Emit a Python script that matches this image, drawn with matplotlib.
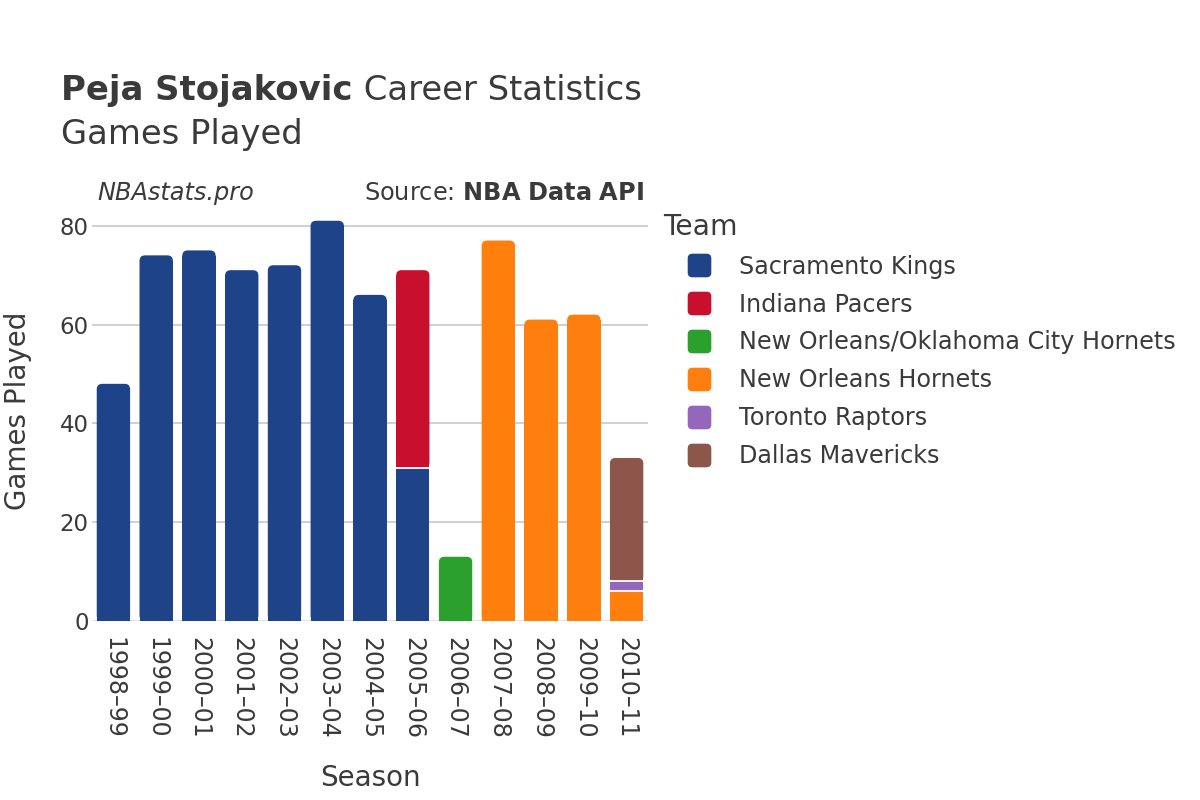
import matplotlib
matplotlib.use("Agg")
import matplotlib.pyplot as plt
from matplotlib.patches import FancyBboxPatch, Rectangle
from matplotlib.lines import Line2D
import numpy as np

seasons = ["1998–99", "1999–00", "2000–01", "2001–02", "2002–03", "2003–04", "2004–05",
           "2005–06", "2006–07", "2007–08", "2008–09", "2009–10", "2010–11"]
teams = ["Sacramento Kings", "Indiana Pacers", "New Orleans/Oklahoma City Hornets",
         "New Orleans Hornets", "Toronto Raptors", "Dallas Mavericks"]
colors = ["#1f4388", "#c8102e", "#2ca02c", "#ff7f0e", "#9467bd", "#8c564b"]
games = {
    "Sacramento Kings":                  [48, 74, 75, 71, 72, 81, 66, 31, 0, 0, 0, 0, 0],
    "Indiana Pacers":                    [0, 0, 0, 0, 0, 0, 0, 40, 0, 0, 0, 0, 0],
    "New Orleans/Oklahoma City Hornets": [0, 0, 0, 0, 0, 0, 0, 0, 13, 0, 0, 0, 0],
    "New Orleans Hornets":               [0, 0, 0, 0, 0, 0, 0, 0, 0, 77, 61, 62, 6],
    "Toronto Raptors":                   [0, 0, 0, 0, 0, 0, 0, 0, 0, 0, 0, 0, 2],
    "Dallas Mavericks":                  [0, 0, 0, 0, 0, 0, 0, 0, 0, 0, 0, 0, 25],
}

TXT = "#3a3a3a"
fig = plt.figure(figsize=(12, 8), dpi=100)
ax = fig.add_axes([0.0767, 0.22375, 0.4633, 0.525])

x = np.arange(len(seasons))
width = 0.78
bottom = np.zeros(len(seasons))
segments = []
for team, col in zip(teams, colors):
    vals = np.array(games[team], dtype=float)
    bars = ax.bar(x, vals, width, bottom=bottom, color=col, linewidth=0, zorder=2)
    for i, (p, v) in enumerate(zip(bars, vals)):
        if v > 0:
            segments.append((p, col, i, bottom[i]))
    bottom = bottom + vals
totals = bottom

ry = 1.1
rx = 0.13
for p, col, i, b in segments:
    px, py, pw, ph = p.get_x(), p.get_y(), p.get_width(), p.get_height()
    if np.isclose(py + ph, totals[i]):
        p.remove()
        ax.add_patch(FancyBboxPatch((px, py), pw, ph,
                                    boxstyle=f"round,pad=0,rounding_size={rx}",
                                    mutation_aspect=ry / rx, facecolor=col,
                                    edgecolor="none", zorder=2))
        ax.add_patch(Rectangle((px, py), pw, ph - ry, facecolor=col,
                               edgecolor="none", zorder=2))
    if b > 0:
        ax.hlines(b, px, px + pw, color="white", lw=1.3, zorder=3)

ax.set_xlim(-0.5, len(seasons) - 0.5)
ax.set_ylim(0, 85)
ax.set_yticks([0, 20, 40, 60, 80])
ax.yaxis.grid(True, color="#c4c4c4", lw=1.1, zorder=0)
ax.set_axisbelow(True)
ax.axhline(0, color="#e6e6e6", lw=2, zorder=1)
for s in ax.spines.values():
    s.set_visible(False)
ax.tick_params(axis="y", length=0, labelsize=16.5, colors=TXT, pad=2.5)
ax.set_xticks(x)
ax.set_xticklabels(seasons, rotation=-90, fontsize=17, color=TXT)
ax.tick_params(axis="x", length=0, pad=11.5, colors=TXT)

ax.set_ylabel("Games Played", fontsize=20, color=TXT, labelpad=20)
ax.set_xlabel("Season", fontsize=20, color=TXT, labelpad=18)

t1 = fig.text(0.051, 0.875, "Peja Stojakovic", fontsize=24.4, fontweight="bold", color=TXT)
fig.canvas.draw()
ax.annotate(" Career Statistics", xy=(1, 0), xycoords=t1, fontsize=24.4, color=TXT,
            va="bottom", ha="left", annotation_clip=False)
fig.text(0.051, 0.820, "Games Played", fontsize=24.4, color=TXT)
fig.text(0.081, 0.75, "NBAstats.pro", fontsize=17.3, style="italic", color=TXT)
fig.text(0.537, 0.75, "Source: $\\bf{NBA\\ Data\\ API}$", fontsize=17.3, color=TXT, ha="right")

rr = FancyBboxPatch((-0.5, -0.5), 1, 1, boxstyle="round,pad=0,rounding_size=0.18")
rpath = rr.get_path()
handles = [Line2D([0], [0], marker=rpath, linestyle="none", markersize=16,
                  markerfacecolor=c, markeredgecolor=c) for c in colors]
leg = fig.legend(handles, teams, loc="upper left", bbox_to_anchor=(0.5525, 0.734),
                 frameon=False, fontsize=17.2, title="Team", title_fontsize=20.3,
                 labelspacing=0.58, handlelength=3.0, handletextpad=0.17,
                 borderaxespad=0, borderpad=0)
leg._legend_box.align = "left"
for t in leg.get_texts():
    t.set_color(TXT)
leg.get_title().set_color(TXT)

fig.savefig("out.png", dpi=100, facecolor="white")
